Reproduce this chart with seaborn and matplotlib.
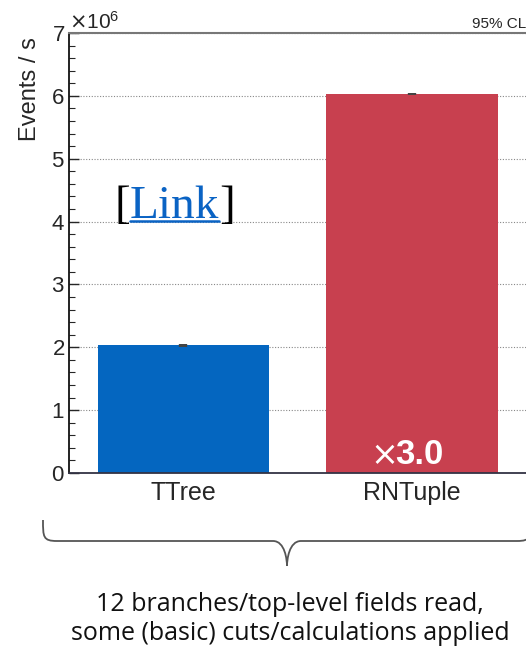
import matplotlib
matplotlib.use("Agg")
import matplotlib.pyplot as plt
import matplotlib.ticker as mticker
from matplotlib.path import Path
from matplotlib.patches import PathPatch
from matplotlib.lines import Line2D
import pandas as pd
import seaborn as sns

# data
formats = ["TTree", "RNTuple"]
events_per_s = [2.03e6, 6.03e6]
errors_95cl = [0.02e6, 0.02e6]
bar_colors = ["#0466c0", "#c8404f"]
speedup_label = "3.0"

sns.set_theme(style="white")
plt.rcParams["font.family"] = ["Liberation Sans", "DejaVu Sans"]

df = pd.DataFrame({"format": formats, "rate": events_per_s})

fig = plt.figure(figsize=(5.26, 6.46), dpi=100)
ax = fig.add_axes([69 / 526, 1 - 473 / 646, 503 / 526, 440 / 646])

sns.barplot(data=df, x="format", y="rate", hue="format", palette=bar_colors,
            order=formats, hue_order=formats, width=0.75, errorbar=None,
            legend=False, ax=ax, edgecolor="none", saturation=1)
ax.errorbar(range(len(formats)), events_per_s, yerr=errors_95cl, fmt="none",
            ecolor="#444444", elinewidth=6, capsize=0)

ax.set_xlim(-0.5, 1.7)
ax.set_ylim(0, 7e6)
ax.yaxis.set_major_locator(mticker.MultipleLocator(1e6))
ax.yaxis.set_minor_locator(mticker.MultipleLocator(0.2e6))
fmt = mticker.ScalarFormatter(useMathText=True)
fmt.set_powerlimits((0, 0))
ax.yaxis.set_major_formatter(fmt)
ax.yaxis.get_offset_text().set_fontsize(15)
ax.yaxis.get_offset_text().set_x(0.0)

ax.grid(axis="y", which="major", linestyle=(0, (1, 1.5)), color="#888888", lw=0.8)
ax.set_axisbelow(True)
ax.tick_params(axis="y", which="major", direction="in", length=7, width=1,
               labelsize=16, left=True, pad=3)
ax.tick_params(axis="y", which="minor", direction="in", length=4, width=0.8, left=True)
ax.tick_params(axis="x", length=0, labelsize=18, pad=6)

ax.set_xlabel("")
ax.set_ylabel("Events / s", fontsize=17)
ax.yaxis.set_label_coords(-0.055, 0.872)

for side in ["left", "bottom"]:
    ax.spines[side].set_color("#111111")
    ax.spines[side].set_linewidth(1.3)
ax.spines["bottom"].set_color("#333344")
ax.spines["top"].set_color("#777777")
ax.spines["top"].set_linewidth(1.5)
ax.spines["right"].set_visible(False)

# speed-up label inside the RNTuple bar
ax.text(0.928, 0.15e6, r"$\times$", color="white", fontsize=24, ha="right",
        va="baseline")
ax.text(0.928, 0.15e6, speedup_label, color="white", fontsize=25, ha="left",
        va="baseline", fontweight="bold")

fig.text(1.0, 1 - 28 / 646, "95% CL", fontsize=11, ha="right", va="baseline")

# [Link] annotation
link_y = 1 - 218 / 646
lb = fig.text(114 / 526, link_y, "[", fontsize=34, family="Liberation Serif",
              color="black", va="baseline")
fig.canvas.draw()
r = fig.canvas.get_renderer()
bb = lb.get_window_extent(r)
lk = fig.text(bb.x1 / 526, link_y, "Link", fontsize=34, family="Liberation Serif",
              color="#0a63c4", va="baseline")
bk = lk.get_window_extent(r)
fig.text(bk.x1 / 526, link_y, "]", fontsize=34, family="Liberation Serif",
         color="black", va="baseline")
fig.add_artist(Line2D([bk.x0 / 526, bk.x1 / 526], [link_y - 3 / 646] * 2,
                      color="#0a63c4", lw=1.8))

# curly brace under the bars
x0, xc, x1 = 43, 287, 531
ytop, ymid, ytip = 646 - 520, 646 - 541, 646 - 566
verts = [(x0, ytop), (x0, ymid + 4), (x0, ymid), (x0 + 14, ymid),
         (xc - 14, ymid), (xc - 2, ymid), (xc, ytip + 6), (xc, ytip)]
codes = [Path.MOVETO, Path.CURVE4, Path.CURVE4, Path.CURVE4,
         Path.LINETO, Path.CURVE4, Path.CURVE4, Path.CURVE4]
verts2 = [(x1, ytop), (x1, ymid + 4), (x1, ymid), (x1 - 14, ymid),
          (xc + 14, ymid), (xc + 2, ymid), (xc, ytip + 6), (xc, ytip)]
for v in (verts, verts2):
    p = Path([(a / 526, b / 646) for a, b in v], codes)
    fig.add_artist(PathPatch(p, transform=fig.transFigure, fill=False,
                             edgecolor="#555555", lw=1.3))

fig.text(290 / 526, 1 - 619 / 646,
         "12 branches/top-level fields read,\nsome (basic) cuts/calculations applied",
         fontsize=18, family="Open Sans", ha="center", va="center",
         linespacing=1.2, color="#111111")

fig.savefig("out.png", dpi=100)
